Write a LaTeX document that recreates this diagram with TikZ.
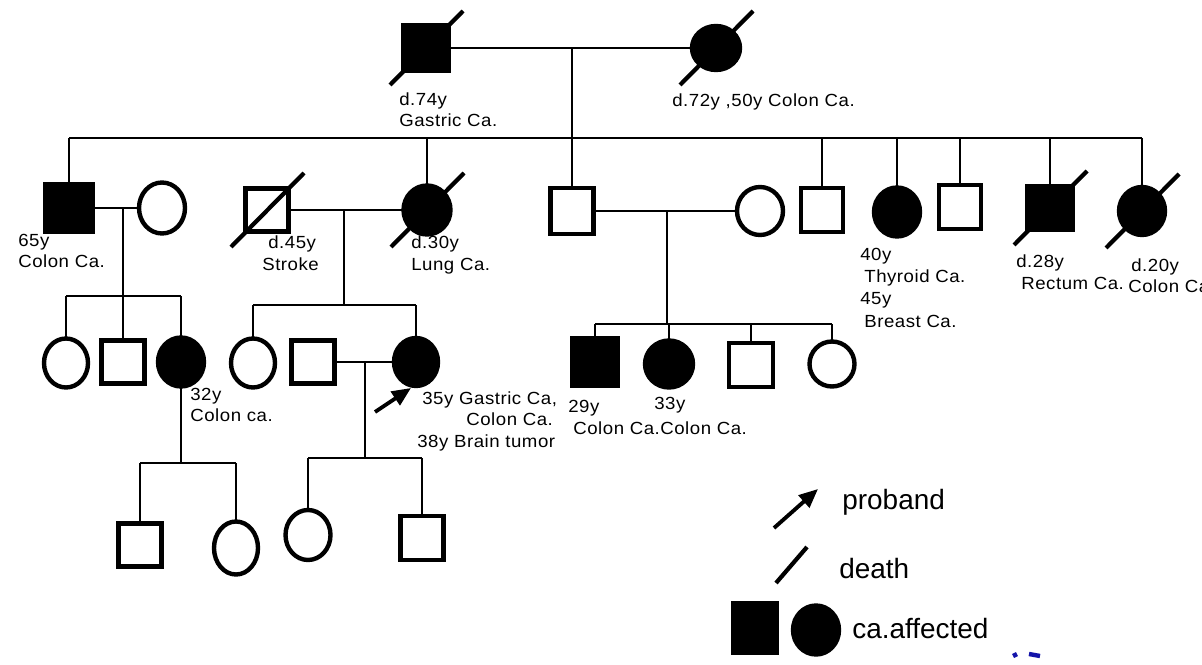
\documentclass[tikz,border=0pt]{standalone}
\usepackage{fontspec}
\setmainfont{Liberation Sans}
\newfontfamily\labf[FakeStretch=1.06,LetterSpace=3]{Liberation Sans}
\newfontfamily\legf{Liberation Sans}
\usetikzlibrary{shapes.geometric,arrows.meta,calc}
\definecolor{pgblue}{RGB}{20,20,170}
\tikzset{
  conn/.style={line width=1.5pt},
  male/.style={draw, rectangle, line width=2.5pt, inner sep=0pt, outer sep=0pt},
  fem/.style={draw, ellipse, line width=2.5pt, inner sep=0pt, outer sep=0pt},
  aff/.style={fill=black},
  S/.style 2 args={minimum width=#1*0.02cm, minimum height=#2*0.02cm},
  dslash/.style={line width=2.4pt},
  lab/.style={anchor=base west, inner sep=0pt, font=\labf\fontsize{10pt}{12pt}\selectfont},
  leg/.style={anchor=base west, inner sep=0pt, font=\legf\fontsize{15.9pt}{18pt}\selectfont},
  parrow/.style={line width=2.2pt, -{Triangle[length=0.38cm, width=0.32cm]}},
  frag/.style={line width=2.5pt, pgblue},
}
\newcommand{\dead}[1]{\draw[dslash] ($(#1)+(-36,37)$) -- ($(#1)+(37,-37)$);}
\begin{document}
\begin{tikzpicture}[x=0.02cm, y=-0.02cm]
\useasboundingbox (0,0) rectangle (1202,665);
\fill[white] (0,0) rectangle (1202,665);

% ---------- Generation I ----------
\node[male, aff, S={45}{45}] (fa) at (426,48) {};
\node[fem, aff, S={48}{44}] (mo) at (716,48) {};
\dead{fa}
\dead{mo}
\draw[conn] (fa.east) -- (mo.west);
\coordinate (d1) at (572,48);
\coordinate (s1) at (572,138);
\draw[conn] (d1) -- (s1);
\node[lab] (l1) at (399,106) {d.74y};
\node[lab] (l2) at (399,127) {Gastric Ca.};
\node[lab] (l3) at (672,107) {d.72y ,50y Colon Ca.};

% ---------- Generation II ----------
\node[male, aff, S={48}{48}] (a) at (69,208) {};
\node[fem, S={46}{51}] (aw) at (162,208) {};
\node[male, S={43}{43}] (st) at (267,210) {};
\node[fem, aff, S={47}{49}] (lu) at (427,210) {};
\node[male, S={43}{46}] (b) at (572,211) {};
\node[fem, S={46}{48}] (bw) at (760,211) {};
\node[male, S={42}{44}] (c1) at (822,210) {};
\node[fem, aff, S={46}{49}] (c2) at (897,212) {};
\node[male, S={42}{44}] (c3) at (960,207) {};
\node[male, aff, S={45}{44}] (c4) at (1050,208) {};
\node[fem, aff, S={46}{48}] (c5) at (1142,211) {};
\dead{st}
\dead{lu}
\dead{c4}
\dead{c5}
\foreach \n in {a,lu,b,c1,c2,c3,c4,c5}{
  \draw[conn] (\n.north) -- (\n.north |- s1);
}
\draw[conn] (a.north |- s1) -- (c5.north |- s1);
\draw[conn] (a.east) -- (aw.west);
\draw[conn] (st.east) -- (lu.west);
\draw[conn] (b.east) -- (bw.west);

\node[lab] (l4) at (18,247) {65y};
\node[lab] (l5) at (18,268) {Colon Ca.};
\node[lab] (l6) at (268,249) {d.45y};
\node[lab] (l7) at (262,271) {Stroke};
\node[lab] (l8) at (411,249) {d.30y};
\node[lab] (l9) at (411,271) {Lung Ca.};
\node[lab] (l10) at (860,260) {40y};
\node[lab] (l11) at (864,282) {Thyroid Ca.};
\node[lab] (l12) at (860,304) {45y};
\node[lab] (l13) at (864,327) {Breast Ca.};
\node[lab] (l14) at (1016,268) {d.28y};
\node[lab] (l15) at (1021,290) {Rectum Ca.};
\node[lab] (l16) at (1131,272) {d.20y};
\node[lab] (l17) at (1128,293) {Colon Ca.};

% ---------- Generation III ----------
\coordinate (d2) at (123,208);
\coordinate (s2) at (123,296);
\draw[conn] (d2) -- (s2);
\node[fem, S={44}{49}] (g1) at (66,363) {};
\node[male, S={43}{43}] (g2) at (123,362) {};
\node[fem, aff, S={46}{49}] (g3) at (181,362) {};
\foreach \n in {g1,g2,g3}{
  \draw[conn] (\n.north) -- (\n.north |- s2);
}
\draw[conn] (g1.north |- s2) -- (g3.north |- s2);

\coordinate (d3) at (344,210);
\coordinate (s3) at (344,305);
\draw[conn] (d3) -- (s3);
\node[fem, S={44}{49}] (h1) at (253,363) {};
\node[male, S={43}{43}] (h2) at (313,362) {};
\node[fem, aff, S={44}{48}] (p) at (416,362) {};
\foreach \n in {h1,p}{
  \draw[conn] (\n.north) -- (\n.north |- s3);
}
\draw[conn] (h1.north |- s3) -- (p.north |- s3);
\draw[conn] (h2.east) -- (p.west);
\coordinate (pa0) at (375,412);
\coordinate (pa1) at (411,388);
\draw[parrow] (pa0) -- (pa1);

\coordinate (d4) at (667,211);
\coordinate (s4) at (667,324);
\draw[conn] (d4) -- (s4);
\node[male, aff, S={46}{48}] (k1) at (595,362) {};
\node[fem, aff, S={48}{47}] (k2) at (669,364) {};
\node[male, S={44}{44}] (k3) at (751,365) {};
\node[fem, S={45}{45}] (k4) at (832,364) {};
\foreach \n in {k1,k2,k3,k4}{
  \draw[conn] (\n.north) -- (\n.north |- s4);
}
\draw[conn] (k1.north |- s4) -- (k4.north |- s4);

\node[lab] (l18) at (190,400) {32y};
\node[lab] (l19) at (190,421) {Colon ca.};
\node[lab] (l20) at (422,404) {35y Gastric Ca,};
\node[lab] (l21) at (466,425) {Colon Ca.};
\node[lab] (l22) at (417,447) {38y Brain tumor};
\node[lab] (l23) at (568,412) {29y};
\node[lab] (l24) at (573,434) {Colon Ca.};
\node[lab] (l25) at (654,409) {33y};
\node[lab] (l26) at (660,434) {Colon Ca.};

% ---------- Generation IV ----------
\coordinate (s5) at (181,463);
\draw[conn] (g3.south) -- (s5);
\node[male, S={43}{43}] (m1) at (140,545) {};
\node[fem, S={44}{53}] (m2) at (236,548) {};
\foreach \n in {m1,m2}{
  \draw[conn] (\n.north) -- (\n.north |- s5);
}
\draw[conn] (m1.north |- s5) -- (m2.north |- s5);

\coordinate (d6) at (365,362);
\coordinate (s6) at (365,458);
\draw[conn] (d6) -- (s6);
\node[fem, S={45}{50}] (n1) at (308,535) {};
\node[male, S={43}{44}] (n2) at (422,538) {};
\foreach \n in {n1,n2}{
  \draw[conn] (\n.north) -- (\n.north |- s6);
}
\draw[conn] (n1.north |- s6) -- (n2.north |- s6);

% ---------- Legend ----------
\coordinate (la0) at (774,528);
\coordinate (la1) at (818,489);
\draw[parrow] (la0) -- (la1);
\node[leg] (t1) at (842,509) {proband};
\coordinate (ls0) at (776,583);
\coordinate (ls1) at (807,547);
\draw[dslash] (ls0) -- (ls1);
\node[leg] (t2) at (839,578) {death};
\node[male, aff, S={44}{49}] (lq) at (755,628) {};
\node[fem, aff, S={46}{49}] (lc) at (816,630) {};
\node[leg] (t3) at (852,638) {ca.affected};

% ---------- blue fragment at the bottom edge ----------
\draw[frag] (1014,653) -- (1016,657);
\draw[frag] (1029,654) -- (1040,656);
\end{tikzpicture}
\end{document}
